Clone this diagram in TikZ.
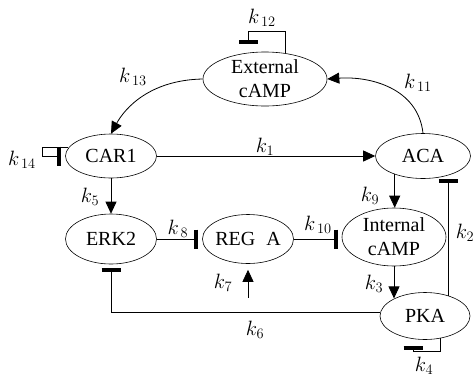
\documentclass[tikz,border=0pt]{standalone}
\usepackage{fontspec}
\setmainfont{Liberation Serif}
\usetikzlibrary{arrows.meta,shapes.geometric,calc}
\begin{document}
\begin{tikzpicture}[x=1pt,y=-1pt,
  st/.style={ellipse, draw, line width=0.6pt, inner sep=-30pt, font=\fontsize{20}{24}\selectfont, align=center},
  arr/.style={-{Triangle[length=12pt,width=11pt]}, line width=0.8pt},
  inh/.style={-{Bar[width=19pt,line width=4pt]}, line width=0.8pt, shorten >=4pt},
  lab/.style={font=\fontsize{20}{24}\selectfont, inner sep=0pt}]
\useasboundingbox (0,0) rectangle (473,378);
% nodes
\node[st, minimum width=124pt, minimum height=54pt] (ext) at (265,79) {External\\cAMP};
\node[st, minimum width=91pt, minimum height=44pt] (car) at (111,156) {CAR1};
\node[st, minimum width=95pt, minimum height=45pt] (aca) at (423,156) {ACA};
\node[st, minimum width=91pt, minimum height=50pt] (erk) at (111,239) {ERK2};
\node[st, minimum width=91pt, minimum height=49pt] (reg) at (248,239) {REG\hspace{0.55em}A};
\node[st, minimum width=104pt, minimum height=58pt] (int) at (394,237) {Internal\\cAMP};
\node[st, minimum width=90pt, minimum height=47pt] (pka) at (425,316) {PKA};
% coordinates for free ends
\coordinate (k12e) at ($(ext.north)+(-17,-8)$);
\coordinate (k4e) at ($(pka.south)+(-12,6)$);
\coordinate (k7a) at ($(reg.south)+(0,34)$);
\coordinate (k7b) at ($(reg.south)+(0,6)$);
% connectors
\draw[arr] (ext.west) .. controls (150,80) and (125,108) .. (car.north);
\draw[arr] (aca.north) .. controls (418,88) and (370,76) .. (ext.east);
\draw[arr] (car.east) -- (aca.west);
\draw[arr] (car.south) -- (erk.north);
\draw[arr] (aca.213) -- (aca.213 |- int.north);
\draw[arr] (int.south) -- (int.south |- pka.150);
\draw[arr] (k7a) -- (k7b);
\draw[inh] (erk.east) -- (reg.west);
\draw[inh] (reg.east) -- (reg.east -| int.west);
\draw[inh, shorten >=0pt] (pka.41) -- (pka.41 |- aca.south);
\draw[inh] (pka.175) -| (erk.south);
\draw[inh] (car.169) -- ++(-26,0) |- (car.west);
\draw[inh, shorten >=0pt] (ext.52) -- ++(0,-22) -| (k12e);
\draw[inh, shorten >=0pt] (pka.304) -- ++(0,13) -| (k4e);
% labels
\node[lab] (l12) at (262,18) {$k_{\,12}$};
\node[lab] (l13) at (133,77) {$k_{\,13}$};
\node[lab] (l11) at (418,83) {$k_{\,11}$};
\node[lab] (l14) at (22,160) {$k_{\,14}$};
\node[lab] (l1) at (265,147) {$k_1$};
\node[lab] (l5) at (90,197) {$k_5$};
\node[lab] (l8) at (178,229) {$k_{\,8}$};
\node[lab] (l10) at (318,225) {$k_{\,10}$};
\node[lab] (l9) at (370,196) {$k_9$};
\node[lab] (l2) at (465,233) {$k_2$};
\node[lab] (l7) at (223,283) {$k_7$};
\node[lab] (l3) at (374,284) {$k_3$};
\node[lab] (l6) at (255,330) {$k_6$};
\node[lab] (l4) at (424,366) {$k_4$};
\end{tikzpicture}
\end{document}
